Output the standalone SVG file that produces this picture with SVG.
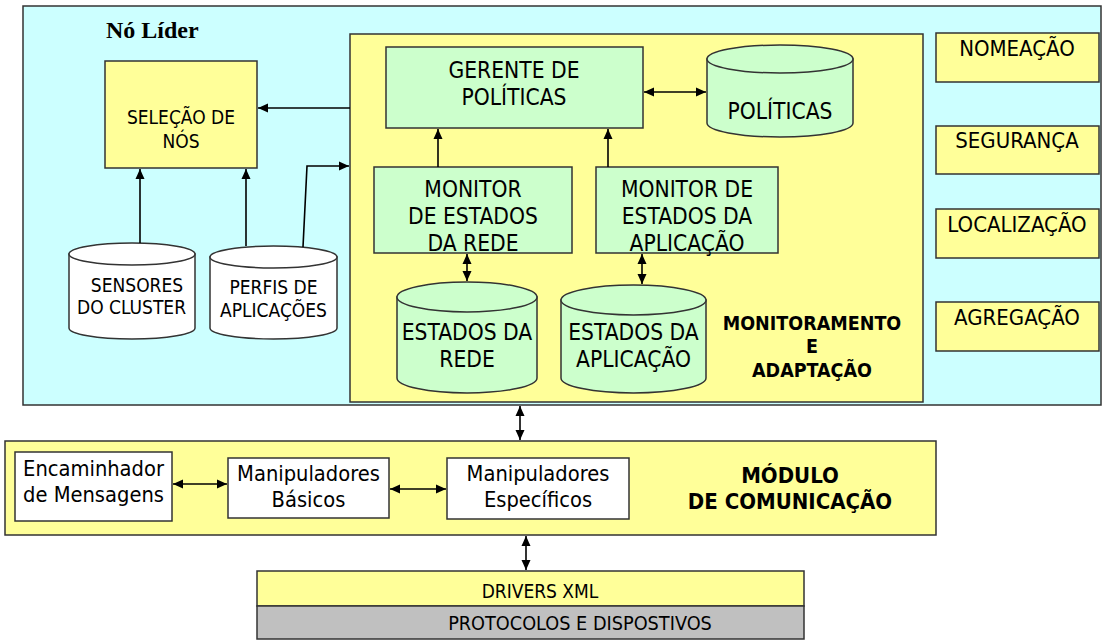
<svg xmlns="http://www.w3.org/2000/svg" width="1102" height="641" viewBox="0 0 1102 641">
<defs>
<marker id="ah" markerWidth="11" markerHeight="11" refX="10" refY="5.5" orient="auto" markerUnits="userSpaceOnUse"><path d="M0,1 L10,5.5 L0,10 Z" fill="#000"/></marker>
<marker id="as" markerWidth="11" markerHeight="11" refX="1" refY="5.5" orient="auto" markerUnits="userSpaceOnUse"><path d="M11,1 L1,5.5 L11,10 Z" fill="#000"/></marker>
</defs>
<style>
.b{stroke:#333;stroke-width:1.5}
.cy{fill:#CCFFFF}.ye{fill:#FFFF99}.gr{fill:#CCFFCC}.wh{fill:#FFFFFF}.gy{fill:#C0C0C0}
text{font-family:"DejaVu Sans Condensed","DejaVu Sans",sans-serif;font-stretch:condensed;fill:#000;text-anchor:middle}
.s19{font-size:19px}.s22{font-size:22px}.s23{font-size:22.6px}.s21{font-size:21.7px}
.bd{font-weight:bold}
.c{fill:none;stroke:#000;stroke-width:1.6}
</style>
<g id="no-lider">
<rect class="b cy" x="23" y="6" width="1078" height="399"/>
<text x="106" y="38" style="font-family:'Liberation Serif',serif;font-weight:bold;font-size:24px;text-anchor:start;font-stretch:normal">Nó Líder</text>
</g>
<g id="monitoramento">
<rect class="b ye" x="350" y="34" width="573" height="368"/>
<text class="bd" x="812" y="330" style="font-size:19.5px">MONITORAMENTO</text>
<text class="bd" x="812" y="353" style="font-size:19.5px">E</text>
<text class="bd" x="812" y="377" style="font-size:19.5px">ADAPTAÇÃO</text>
</g>
<g id="selecao">
<rect class="b ye" x="105" y="61" width="152" height="107"/>
<text class="s19" x="181" y="124">SELEÇÃO DE</text>
<text class="s19" x="181" y="148">NÓS</text>
</g>
<g id="sensores">
<path class="b wh" d="M69,254 L69,328 A63,11 0 0 0 195,328 L195,254 Z"/>
<ellipse class="b wh" cx="132" cy="254" rx="63" ry="11"/>
<text class="s19" x="137" y="292">SENSORES</text>
<text class="s19" x="131.5" y="314">DO CLUSTER</text>
</g>
<g id="perfis">
<path class="b wh" d="M210,257 L210,328 A63.5,11 0 0 0 337,328 L337,257 Z"/>
<ellipse class="b wh" cx="273.5" cy="257" rx="63.5" ry="11"/>
<text class="s19" x="273.5" y="294">PERFIS DE</text>
<text class="s19" x="273.5" y="317">APLICAÇÕES</text>
</g>
<g id="gerente">
<rect class="b gr" x="386" y="47" width="257" height="81"/>
<text class="s23" x="514" y="78">GERENTE DE</text>
<text class="s23" x="514" y="105">POLÍTICAS</text>
</g>
<g id="politicas">
<path class="b gr" d="M707,59 L707,123 A73,14 0 0 0 853,123 L853,59 Z"/>
<ellipse class="b gr" cx="780" cy="59" rx="73" ry="14"/>
<text class="s23" x="780" y="119">POLÍTICAS</text>
</g>
<g id="monitor-rede">
<rect class="b gr" x="374" y="167" width="198" height="86"/>
<text class="s23" x="473" y="197">MONITOR</text>
<text class="s23" x="473" y="224">DE ESTADOS</text>
<text class="s23" x="473" y="251">DA REDE</text>
</g>
<g id="monitor-aplicacao">
<rect class="b gr" x="596" y="167" width="182" height="86"/>
<text class="s23" x="687" y="197">MONITOR DE</text>
<text class="s23" x="687" y="224">ESTADOS DA</text>
<text class="s23" x="687" y="251">APLICAÇÃO</text>
</g>
<g id="estados-rede">
<path class="b gr" d="M397,297 L397,378 A70,15 0 0 0 537,378 L537,297 Z"/>
<ellipse class="b gr" cx="467" cy="297" rx="70" ry="15"/>
<text class="s23" x="467" y="340">ESTADOS DA</text>
<text class="s23" x="467" y="367">REDE</text>
</g>
<g id="estados-aplicacao">
<path class="b gr" d="M561,300 L561,378 A72.5,15 0 0 0 706,378 L706,300 Z"/>
<ellipse class="b gr" cx="633.5" cy="300" rx="72.5" ry="15"/>
<text class="s23" x="633.5" y="340">ESTADOS DA</text>
<text class="s23" x="633.5" y="367">APLICAÇÃO</text>
</g>
<g id="nomeacao"><rect class="b ye" x="936" y="33" width="163" height="49"/><text class="s22" x="1017" y="56">NOMEAÇÃO</text></g>
<g id="seguranca"><rect class="b ye" x="936" y="126" width="163" height="48"/><text class="s22" x="1017" y="148">SEGURANÇA</text></g>
<g id="localizacao"><rect class="b ye" x="936" y="209" width="163" height="49"/><text class="s22" x="1017" y="232">LOCALIZAÇÃO</text></g>
<g id="agregacao"><rect class="b ye" x="936" y="302" width="163" height="49"/><text class="s22" x="1017" y="325">AGREGAÇÃO</text></g>
<g id="modulo">
<rect class="b ye" x="5" y="441" width="931" height="94"/>
<text class="bd" x="790" y="483" style="font-size:22px">MÓDULO</text>
<text class="bd" x="790" y="509" style="font-size:22px">DE COMUNICAÇÃO</text>
</g>
<g id="encaminhador">
<rect class="b wh" x="15" y="452" width="157" height="69"/>
<text class="s21" x="93.5" y="476">Encaminhador</text>
<text class="s21" x="93.5" y="502">de Mensagens</text>
</g>
<g id="basicos">
<rect class="b wh" x="228" y="458" width="161" height="60"/>
<text class="s21" x="308.5" y="481">Manipuladores</text>
<text class="s21" x="308.5" y="507">Básicos</text>
</g>
<g id="especificos">
<rect class="b wh" x="447" y="458" width="182" height="61"/>
<text class="s21" x="538" y="481">Manipuladores</text>
<text class="s21" x="538" y="507">Específicos</text>
</g>
<g id="drivers">
<rect class="b ye" x="257" y="571" width="547" height="35"/>
<text class="s19" x="540" y="598">DRIVERS XML</text>
</g>
<g id="protocolos">
<rect class="b gy" x="257" y="606" width="547" height="33"/>
<text x="580" y="630" style="font-size:19.7px">PROTOCOLOS E DISPOSTIVOS</text>
</g>
<g id="connectors">
<line class="c" x1="350" y1="108" x2="258" y2="108" marker-end="url(#ah)"/>
<line class="c" x1="140" y1="243" x2="140" y2="169" marker-end="url(#ah)"/>
<line class="c" x1="246" y1="246" x2="246" y2="169" marker-end="url(#ah)"/>
<polyline class="c" points="303,247 307,166 349,166" marker-end="url(#ah)"/>
<line class="c" x1="438" y1="167" x2="438" y2="129" marker-end="url(#ah)"/>
<line class="c" x1="608" y1="167" x2="608" y2="129" marker-end="url(#ah)"/>
<line class="c" x1="644" y1="92" x2="706" y2="92" marker-start="url(#as)" marker-end="url(#ah)"/>
<line class="c" x1="467" y1="254" x2="467" y2="281" marker-start="url(#as)" marker-end="url(#ah)"/>
<line class="c" x1="642" y1="254" x2="642" y2="284" marker-start="url(#as)" marker-end="url(#ah)"/>
<line class="c" x1="520" y1="406" x2="520" y2="440" marker-start="url(#as)" marker-end="url(#ah)"/>
<line class="c" x1="173" y1="484" x2="227" y2="484" marker-start="url(#as)" marker-end="url(#ah)"/>
<line class="c" x1="390" y1="489" x2="446" y2="489" marker-start="url(#as)" marker-end="url(#ah)"/>
<line class="c" x1="526" y1="536" x2="526" y2="570" marker-start="url(#as)" marker-end="url(#ah)"/>
</g>
</svg>
